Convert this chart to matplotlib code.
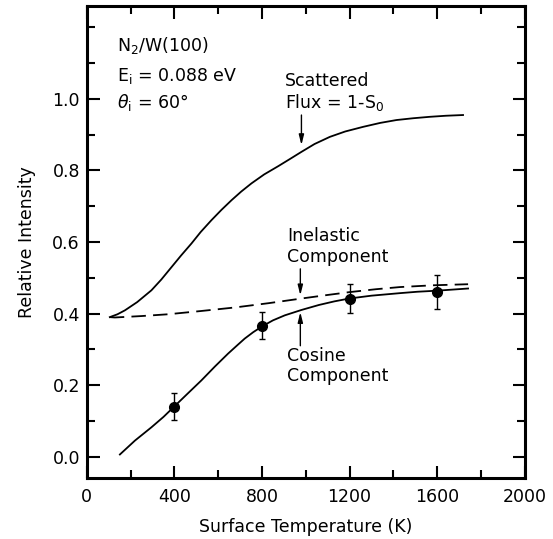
import matplotlib
matplotlib.use("Agg")
import matplotlib.pyplot as plt
from matplotlib.ticker import MultipleLocator

plt.rcParams['font.family'] = ['DejaVu Sans']
plt.rcParams['mathtext.fontset'] = 'dejavusans'

# values
scat_T = [105, 140, 174, 230, 295, 340, 387, 430, 478, 520, 569, 615, 661, 705, 752, 810, 874, 930, 980, 1040,
          1110, 1180, 1262, 1340, 1414, 1490, 1566, 1640, 1718]
scat_v = [0.39, 0.398, 0.409, 0.432, 0.465, 0.495, 0.53, 0.562, 0.596, 0.628, 0.661, 0.69, 0.717, 0.741, 0.764,
          0.789, 0.812, 0.833, 0.852, 0.874, 0.894, 0.909, 0.922, 0.933, 0.941, 0.946, 0.950, 0.953, 0.955]

inel_T = [105, 128, 250, 371, 520, 676, 830, 980, 1100, 1201, 1320, 1429, 1580, 1741]
inel_v = [0.39, 0.389, 0.393, 0.398, 0.407, 0.417, 0.429, 0.442, 0.452, 0.46, 0.468, 0.474, 0.479, 0.482]

cos_T = [151, 220, 295, 350, 399, 460, 523, 585, 645, 690, 721, 760, 800, 850, 904, 980, 1060, 1130, 1198,
         1300, 1429, 1510, 1601, 1741]
cos_v = [0.006, 0.045, 0.082, 0.111, 0.14, 0.176, 0.213, 0.252, 0.288, 0.313, 0.33, 0.348, 0.364, 0.381, 0.395,
         0.41, 0.424, 0.434, 0.442, 0.45, 0.457, 0.461, 0.464, 0.47]

pts_T = [400, 800, 1200, 1600]
pts_v = [0.14, 0.366, 0.442, 0.46]
pts_err = [0.037, 0.037, 0.04, 0.048]

fig = plt.figure(figsize=(5.53, 5.39), dpi=100)
ax = fig.add_axes([0.157, 0.113, 0.792, 0.876])

ax.plot(scat_T, scat_v, color='black', lw=1.3)
ax.plot(inel_T, inel_v, color='black', lw=1.3, dashes=(8, 4))
ax.plot(cos_T, cos_v, color='black', lw=1.3)
ax.errorbar(pts_T, pts_v, yerr=pts_err, fmt='o', color='black', ms=7,
            capsize=2.5, elinewidth=1, capthick=1)

ax.set_xlim(0, 2000)
ax.set_ylim(-0.06, 1.26)
ax.xaxis.set_major_locator(MultipleLocator(400))
ax.xaxis.set_minor_locator(MultipleLocator(200))
ax.set_yticks([0.0, 0.2, 0.4, 0.6, 0.8, 1.0])
ax.yaxis.set_minor_locator(MultipleLocator(0.1))
ax.set_yticklabels(['0.0', '0.2', '0.4', '0.6', '0.8', '1.0'])

ax.tick_params(which='both', direction='in', top=True, right=True, width=1.5, labelsize=12.5)
ax.tick_params(which='major', length=9)
ax.tick_params(which='minor', length=6)
ax.tick_params(axis='x', pad=7)
ax.tick_params(axis='y', pad=5)
for s in ax.spines.values():
    s.set_linewidth(2.2)

ax.set_xlabel('Surface Temperature (K)', fontsize=12.5, labelpad=9)
ax.set_ylabel('Relative Intensity', fontsize=12.5, labelpad=12)

arrow = dict(arrowstyle='-|>,head_width=0.15,head_length=0.6', color='black', lw=1,
             shrinkA=0, shrinkB=0)

# header text
ax.text(140, 1.135, 'N$_2$/W(100)', fontsize=12.5)
ax.text(140, 1.05, 'E$_\\mathregular{i}$ = 0.088 eV', fontsize=12.5)
ax.text(140, 0.975, '$\\theta_\\mathregular{i}$ = 60°', fontsize=12.5)

ax.text(905, 1.035, 'Scattered', fontsize=12.5)
ax.text(905, 0.975, 'Flux = 1-S$_0$', fontsize=12.5)
ax.annotate('', xy=(980, 0.871), xytext=(980, 0.955), arrowprops=arrow)

ax.text(915, 0.603, 'Inelastic', fontsize=12.5)
ax.text(915, 0.543, 'Component', fontsize=12.5)
ax.annotate('', xy=(975, 0.451), xytext=(975, 0.525), arrowprops=arrow)

ax.text(915, 0.268, 'Cosine', fontsize=12.5)
ax.text(915, 0.212, 'Component', fontsize=12.5)
ax.annotate('', xy=(975, 0.404), xytext=(975, 0.31), arrowprops=arrow)

fig.savefig('out.png', dpi=100)
